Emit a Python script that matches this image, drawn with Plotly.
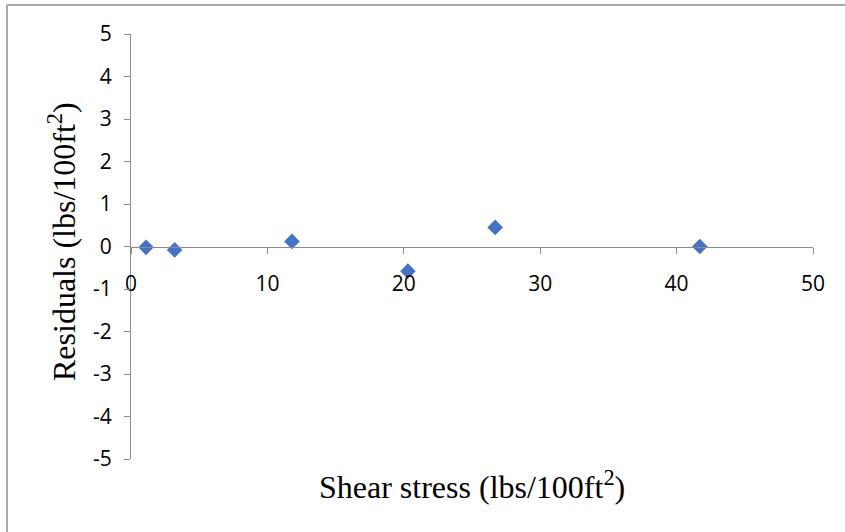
import plotly.graph_objects as go

shear_stress = [1.1, 3.2, 11.8, 20.3, 26.7, 41.7]
residuals = [-0.02, -0.08, 0.12, -0.58, 0.45, 0.0]

x_ticks = [0, 10, 20, 30, 40, 50]
y_ticks = [5, 4, 3, 2, 1, 0, -1, -2, -3, -4, -5]
y_tick_labels = ["5", "4", "3", "2", "1", "0", "-1", "-2", "-3", "-4", "-5"]

W, H = 845, 532
ml, mr, mt, mb = 131, 32, 34, 73
pw, ph = W - ml - mr, H - mt - mb

tick_font = dict(family="Open Sans, Lato, sans-serif", size=21, color="#000")
title_font = dict(family="Liberation Serif, Times New Roman, serif", size=32, color="#000")

fig = go.Figure()
fig.add_trace(go.Scatter(
    x=shear_stress, y=residuals, mode="markers",
    marker=dict(symbol="diamond", size=12, color="#4472C4", line=dict(width=0)),
    showlegend=False, cliponaxis=False,
))

axis_color = "#8C8C8C"
fig.update_layout(
    width=W, height=H,
    margin=dict(l=ml, r=mr, t=mt, b=mb, autoexpand=False),
    paper_bgcolor="white", plot_bgcolor="white",
    xaxis=dict(
        range=[0, 50], tickvals=x_ticks, showgrid=False, zeroline=False,
        showline=True, linecolor=axis_color, linewidth=1,
        ticks="outside", ticklen=6, tickcolor=axis_color,
        anchor="free", position=0.5, ticklabelstandoff=12,
        tickfont=tick_font, automargin=False,
    ),
    yaxis=dict(
        range=[-5, 5], tickvals=y_ticks, ticktext=y_tick_labels,
        showgrid=False, zeroline=False,
        showline=True, linecolor=axis_color, linewidth=1,
        ticks="outside", ticklen=6, tickcolor=axis_color,
        tickfont=tick_font, automargin=False, ticklabelstandoff=8,
    ),
    annotations=[
        dict(text="Shear stress (lbs/100ft<sup>2</sup>)", xref="paper", yref="paper",
             x=(472 - ml) / pw, y=-(485 - (H - mb)) / ph,
             xanchor="center", yanchor="middle", showarrow=False, font=title_font),
        dict(text="Residuals (lbs/100ft<sup>2</sup>)", xref="paper", yref="paper",
             x=-(ml - 62) / pw, y=(H - mb - 242) / ph, textangle=-90,
             xanchor="center", yanchor="middle", showarrow=False, font=title_font),
    ],
    shapes=[
        dict(type="line", xref="paper", yref="paper",
             x0=-(ml - 7) / pw, x1=(W - ml) / pw,
             y0=1 + (mt - 5) / ph, y1=1 + (mt - 5) / ph,
             line=dict(color="#ABABAB", width=2)),
        dict(type="line", xref="paper", yref="paper",
             x0=-(ml - 7) / pw, x1=-(ml - 7) / pw,
             y0=1 + (mt - 5) / ph, y1=-(mb + 2) / ph,
             line=dict(color="#ABABAB", width=2)),
    ],
)

fig.write_html("out.html", config={"displayModeBar": False},
               post_script="document.body.style.margin='0';")
